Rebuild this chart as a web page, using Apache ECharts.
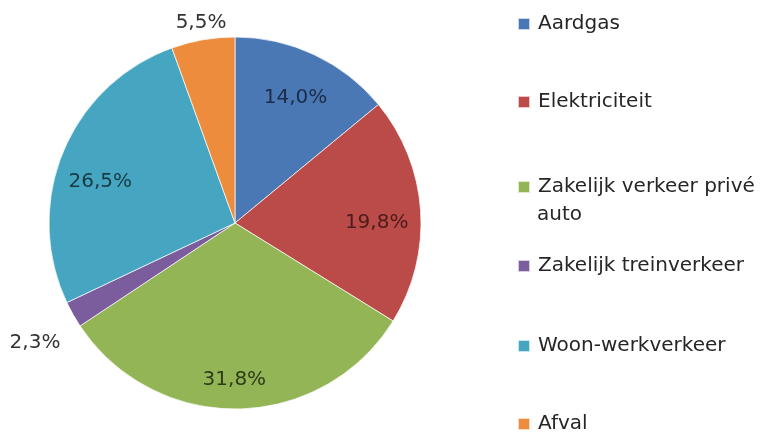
<!DOCTYPE html>
<html>
<head>
<meta charset="utf-8">
<script src="https://cdn.jsdelivr.net/npm/echarts@6/dist/echarts.min.js"></script>
<style>html,body{margin:0;padding:0;background:#fff}#c{width:775px;height:437px}</style>
</head>
<body>
<div id="c"></div>
<script>
const categories = ['Aardgas', 'Elektriciteit', 'Zakelijk verkeer privé auto', 'Zakelijk treinverkeer', 'Woon-werkverkeer', 'Afval'];
const values = [14.0, 19.8, 31.8, 2.3, 26.5, 5.5];
const colors = ['#4a78b4', '#bb4b48', '#93b556', '#7b5d9e', '#46a6c2', '#ec8c3c'];
const labelColors = ['#1c2c48', '#4a1c1b', '#2e3d18', '#333333', '#183a44', '#333333'];
const outsideLabel = [false, false, false, true, false, true];
const legendTops = [14, 92, 177, 256, 336, 414];
const labelNudge = [[-3, 10], [-7, 10], [-3, 8], [0, 0], [3, 16], [0, 0]];
const outsideNudge = [[0, 0], [0, 0], [0, 0], [-18, 17], [0, 0], [2, 6]];

const fmt = p => p.value.toFixed(1).replace('.', ',') + '%';
const font = 'DejaVu Sans';

const chart = echarts.init(document.getElementById('c'));
const legends = categories.map((name, i) => ({
  left: 517, top: legendTops[i], orient: 'vertical', padding: 0,
  data: [name], itemWidth: 12, itemHeight: 12, itemGap: 0,
  icon: 'rect', selectedMode: false,
  formatter: n => n === 'Zakelijk verkeer privé auto' ? 'Zakelijk verkeer privé' : n,
  textStyle: { fontFamily: font, fontSize: 20, color: '#262626', padding: [0, 0, 0, 3] }
}));

chart.setOption({
  animation: false,
  color: colors,
  legend: legends,
  graphic: [{ type: 'text', left: 537, top: 205, style: { text: 'auto', font: '20px "DejaVu Sans"', fill: '#262626' } }],
  series: [
    {
      type: 'pie', center: [235, 223], radius: 186, startAngle: 90, clockwise: true,
      itemStyle: { borderColor: 'rgba(255,255,255,0.7)', borderWidth: 1 },
      emphasis: { disabled: true },
      label: { show: false },
      data: categories.map((name, i) => ({ name, value: values[i] }))
    },
    {
      type: 'pie', center: [235, 223], radius: [106, 186], startAngle: 90, clockwise: true, silent: true,
      itemStyle: { color: 'transparent' },
      emphasis: { disabled: true },
      data: categories.map((name, i) => ({
        name, value: values[i],
        label: { show: !outsideLabel[i], position: 'inside', formatter: fmt, fontFamily: font, fontSize: 20, color: labelColors[i], offset: labelNudge[i] }
      }))
    },
    {
      type: 'pie', center: [235, 223], radius: [186, 226], startAngle: 90, clockwise: true, silent: true,
      itemStyle: { color: 'transparent' },
      emphasis: { disabled: true },
      data: categories.map((name, i) => ({
        name, value: values[i],
        label: { show: outsideLabel[i], position: 'inside', formatter: fmt, fontFamily: font, fontSize: 20, color: labelColors[i], offset: outsideNudge[i] }
      }))
    }
  ]
});
</script>
</body>
</html>
